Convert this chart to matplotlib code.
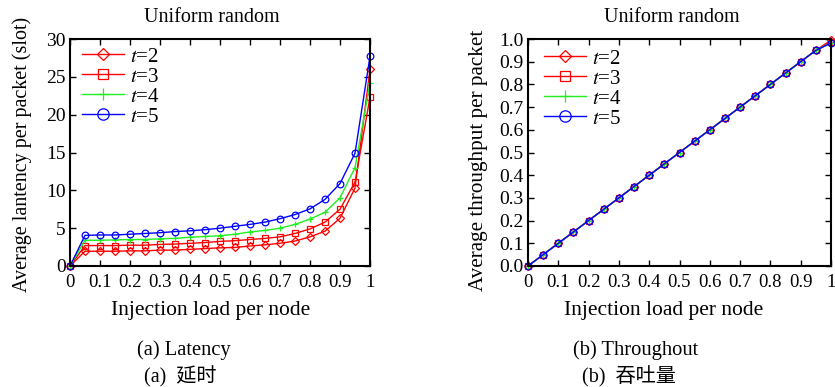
import matplotlib
matplotlib.use("Agg")
import matplotlib.pyplot as plt
import numpy as np

plt.rcParams['font.family'] = ['Liberation Serif', 'Noto Sans CJK SC']
plt.rcParams['mathtext.fontset'] = 'stix'

load = [0, 0.05, 0.1, 0.15, 0.2, 0.25, 0.3, 0.35, 0.4, 0.45, 0.5,
        0.55, 0.6, 0.65, 0.7, 0.75, 0.8, 0.85, 0.9, 0.95, 1.0]

lat_t2 = [0, 1.95, 1.95, 1.95, 2.0, 2.0, 2.1, 2.1, 2.2, 2.3, 2.4,
          2.45, 2.65, 2.8, 3.0, 3.3, 3.85, 4.6, 6.3, 10.3, 26.0]
lat_t3 = [0, 2.7, 2.7, 2.7, 2.75, 2.75, 2.85, 2.9, 3.0, 3.1, 3.25,
          3.35, 3.5, 3.65, 3.85, 4.3, 4.9, 5.8, 7.5, 11.1, 22.3]
lat_t4 = [0, 3.4, 3.4, 3.45, 3.5, 3.5, 3.6, 3.65, 3.8, 3.9, 4.0,
          4.2, 4.5, 4.7, 5.0, 5.5, 6.2, 7.1, 9.0, 13.0, 24.2]
lat_t5 = [0, 4.05, 4.1, 4.1, 4.2, 4.3, 4.4, 4.55, 4.65, 4.8, 5.0,
          5.25, 5.5, 5.8, 6.25, 6.8, 7.55, 8.8, 10.9, 14.9, 27.7]

thr_t2 = [0, 0.05, 0.1, 0.15, 0.2, 0.25, 0.3, 0.35, 0.4, 0.45, 0.5,
          0.55, 0.6, 0.65, 0.7, 0.75, 0.8, 0.85, 0.9, 0.95, 0.995]
thr_t3 = [0, 0.05, 0.1, 0.15, 0.2, 0.25, 0.3, 0.35, 0.4, 0.45, 0.5,
          0.55, 0.6, 0.65, 0.7, 0.75, 0.8, 0.85, 0.9, 0.95, 0.985]
thr_t4 = [0, 0.05, 0.1, 0.15, 0.2, 0.25, 0.3, 0.35, 0.4, 0.45, 0.5,
          0.55, 0.6, 0.65, 0.7, 0.75, 0.8, 0.85, 0.9, 0.95, 0.983]
thr_t5 = [0, 0.05, 0.1, 0.15, 0.2, 0.25, 0.3, 0.35, 0.4, 0.45, 0.5,
          0.55, 0.6, 0.65, 0.7, 0.75, 0.8, 0.85, 0.9, 0.95, 0.982]

labels = [r'$t$=2', r'$t$=3', r'$t$=4', r'$t$=5']
colors = ['#ff0000', '#ff0000', '#22ee22', '#0000ff']
markers = ['D', 's', '+', 'o']
msizes = [3.8, 4.5, 5.0, 4.8]

xticks = [0, 0.1, 0.2, 0.3, 0.4, 0.5, 0.6, 0.7, 0.8, 0.9, 1]
xticklabels = ['0', '0.1', '0.2', '0.3', '0.4', '0.5', '0.6', '0.7', '0.8', '0.9', '1']
lat_yticks = [0, 5, 10, 15, 20, 25, 30]
thr_yticks = [0, 0.1, 0.2, 0.3, 0.4, 0.5, 0.6, 0.7, 0.8, 0.9, 1.0]

W, H = 835, 387
fig = plt.figure(figsize=(W / 100, H / 100), dpi=100)

def px_axes(l, t, r, b):
    return fig.add_axes([l / W, 1 - b / H, (r - l) / W, (b - t) / H])

ax1 = px_axes(70, 39, 370, 266)
ax2 = px_axes(528, 39, 831, 266)

def style(ax, yticks, ylabels, ylim):
    ax.set_xlim(0, 1)
    ax.set_ylim(*ylim)
    ax.set_xticks(xticks)
    ax.set_xticklabels(xticklabels, fontsize=13.5)
    ax.set_yticks(yticks)
    ax.set_yticklabels(ylabels, fontsize=14)
    ax.tick_params(direction='in', top=True, right=True, length=4, width=1, pad=3)
    ax.tick_params(axis='x', pad=6)
    for s in ax.spines.values():
        s.set_linewidth(1.5)

lat_series = [lat_t2, lat_t3, lat_t4, lat_t5]
thr_series = [thr_t2, thr_t3, thr_t4, thr_t5]
for ax, series in ((ax1, lat_series), (ax2, thr_series)):
    for ser, lab, c, m, ms in zip(series, labels, colors, markers, msizes):
        ax.plot(load, ser, color=c, marker=m, markersize=ms, markerfacecolor='none',
                markeredgecolor=c, markeredgewidth=0.9, linewidth=1.0, label=lab,
                clip_on=False)

style(ax1, lat_yticks, [str(v) for v in lat_yticks], (0, 30))
style(ax2, thr_yticks, ['%.1f' % v for v in thr_yticks], (0, 1.0))

# titles
fig.text(212 / W, 1 - 18 / H, 'Uniform random', ha='center', va='center', fontsize=14.5)
fig.text(672 / W, 1 - 18 / H, 'Uniform random', ha='center', va='center', fontsize=14.5)

# legends
leg_kw = dict(loc='upper left', frameon=False, fontsize=15, handlelength=2.0,
              handletextpad=0.3, labelspacing=0.02, borderaxespad=0.0,
              borderpad=0.0, markerscale=1.7)
ax1.legend(bbox_to_anchor=(12 / 300, 1 - 8 / 227), **leg_kw)
ax2.legend(bbox_to_anchor=(16 / 303, 1 - 10 / 227), **leg_kw)

# axis labels
fig.text(211 / W, 1 - 311 / H, 'Injection load per node', ha='center', va='center', fontsize=15.5)
fig.text(664 / W, 1 - 311 / H, 'Injection load per node', ha='center', va='center', fontsize=15.5)
fig.text(22 / W, 1 - 154 / H, 'Average lantency per packet (slot)', ha='center', va='center',
         rotation=90, fontsize=14.5)
fig.text(478 / W, 1 - 160 / H, 'Average throughput per packet', ha='center', va='center',
         rotation=90, fontsize=15.2)

# captions
fig.text(184 / W, 1 - 350 / H, '(a) Latency', ha='center', va='center', fontsize=14.8)
fig.text(180 / W, 1 - 377 / H, '(a)  延时', ha='center', va='center', fontsize=14.5)
fig.text(636 / W, 1 - 350 / H, '(b) Throughout', ha='center', va='center', fontsize=14.8)
fig.text(629 / W, 1 - 377 / H, '(b)  吞吐量', ha='center', va='center', fontsize=14.5)

fig.savefig('out.png', dpi=100)
